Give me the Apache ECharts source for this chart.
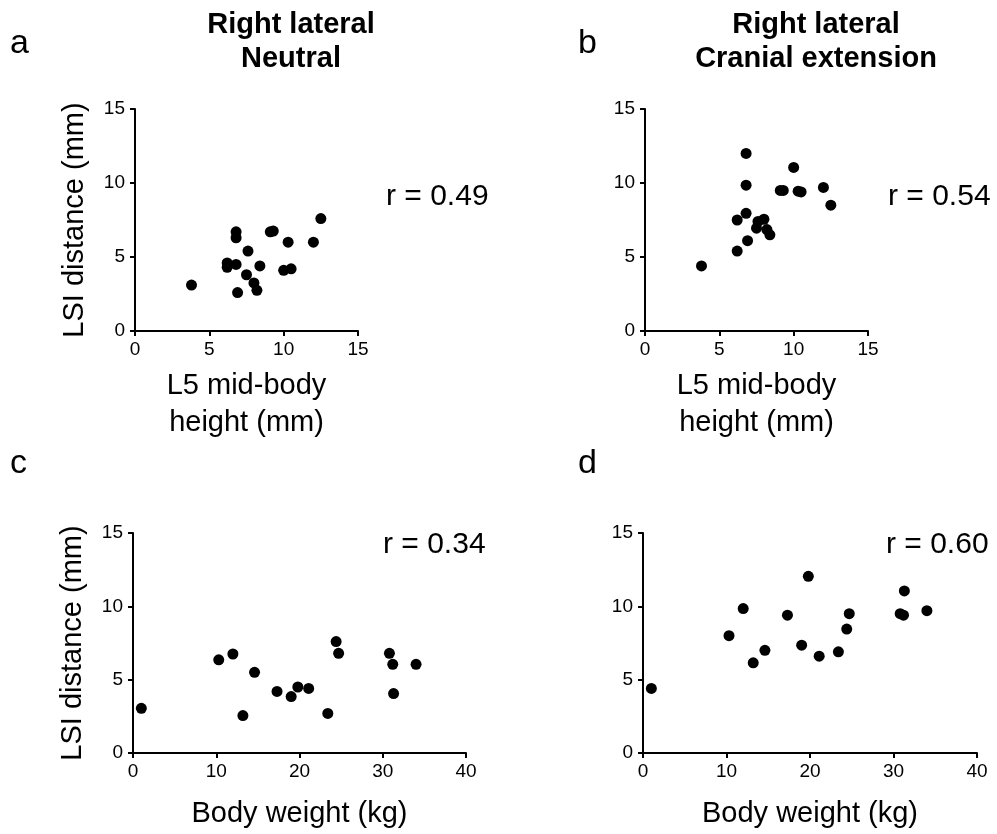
<!DOCTYPE html>
<html>
<head>
<meta charset="utf-8">
<script src="https://cdn.jsdelivr.net/npm/echarts@6/dist/echarts.min.js"></script>
<style>
  html, body { margin: 0; padding: 0; background: #fff; }
  #chart { width: 997px; height: 834px; }
</style>
</head>
<body>
<div id="chart"></div>
<script>
// L5 mid-body height (mm), same dogs in panels a and b
var heightA = [3.8, 6.2, 6.2, 6.8, 6.8, 6.8, 6.9, 7.6, 7.5, 8.0, 8.2, 8.4, 9.1, 9.3, 10.0, 10.3, 10.5, 12.0, 12.5];
var lsiNeutral = [3.1, 4.6, 4.3, 6.7, 6.3, 4.5, 2.6, 5.4, 3.8, 3.25, 2.75, 4.4, 6.7, 6.75, 4.1, 6.0, 4.2, 6.0, 7.6];
var lsiCranial = [4.4, 5.4, 7.5, 12.0, 9.85, 7.95, 6.1, 7.4, 6.95, 7.55, 6.85, 6.5, 9.5, 9.5, 11.05, 9.45, 9.4, 9.7, 8.5];

// body weight (kg), panels c and d
var weight = [1.0, 10.3, 12.0, 13.2, 14.6, 17.3, 19.0, 19.8, 21.1, 23.4, 24.4, 24.7, 30.8, 31.2, 31.3, 34.0];
var lsiNeutralW = [3.05, 6.35, 6.75, 2.55, 5.5, 4.2, 3.85, 4.5, 4.4, 2.7, 7.6, 6.8, 6.8, 6.05, 4.05, 6.05];
var lsiCranialW = [4.4, 8.0, 9.85, 6.15, 7.0, 9.4, 7.35, 12.05, 6.6, 6.9, 8.45, 9.5, 9.5, 9.4, 11.05, 9.7];

var rValues = ['r = 0.49', 'r = 0.54', 'r = 0.34', 'r = 0.60'];

var FONT = '"Liberation Sans", Arial, Helvetica, sans-serif';

function pairs(xs, ys) {
    var out = [];
    for (var i = 0; i < xs.length; i++) out.push([xs[i], ys[i]]);
    return out;
}

function xAx(idx, max, interval, name, gap) {
    return {
        type: 'value', gridIndex: idx, min: 0, max: max, interval: interval,
        name: name, nameLocation: 'middle', nameGap: gap,
        nameTextStyle: { fontFamily: FONT, fontSize: 29, color: '#000', lineHeight: 37 },
        axisLine: { show: true, onZero: false, lineStyle: { color: '#000', width: 2 } },
        axisTick: { show: true, length: 5, lineStyle: { color: '#000', width: 2 } },
        axisLabel: { fontFamily: FONT, fontSize: 19, color: '#000', margin: 9 },
        splitLine: { show: false }
    };
}

function yAx(idx, name) {
    return {
        type: 'value', gridIndex: idx, min: 0, max: 15, interval: 5,
        name: name, nameLocation: 'middle', nameGap: 46,
        nameTextStyle: { fontFamily: FONT, fontSize: 29, color: '#000' },
        axisLine: { show: true, onZero: false, lineStyle: { color: '#000', width: 2 } },
        axisTick: { show: true, length: 5, lineStyle: { color: '#000', width: 2 } },
        axisLabel: { fontFamily: FONT, fontSize: 19, color: '#000', margin: 10 },
        splitLine: { show: false }
    };
}

function dots(idx, data) {
    return {
        type: 'scatter', xAxisIndex: idx, yAxisIndex: idx, data: data,
        symbol: 'circle', symbolSize: 11,
        itemStyle: { color: '#000', opacity: 1 }, silent: true
    };
}

function txt(x, y, text, size) {
    return {
        type: 'text', left: x, top: y,
        style: { text: text, fontFamily: FONT, fontSize: size, fill: '#000' }
    };
}

var myChart = echarts.init(document.getElementById('chart'));

var option = {
    backgroundColor: '#fff',
    animation: false,
    grid: [
        { left: 135, top: 109, width: 223, height: 222, outerBoundsMode: 'none' },
        { left: 645, top: 109, width: 223, height: 222, outerBoundsMode: 'none' },
        { left: 133, top: 533, width: 333, height: 220, outerBoundsMode: 'none' },
        { left: 643, top: 533, width: 334, height: 220, outerBoundsMode: 'none' }
    ],
    xAxis: [
        xAx(0, 15, 5, 'L5 mid-body\nheight (mm)', 36),
        xAx(1, 15, 5, 'L5 mid-body\nheight (mm)', 36),
        xAx(2, 40, 10, 'Body weight (kg)', 42),
        xAx(3, 40, 10, 'Body weight (kg)', 42)
    ],
    yAxis: [
        yAx(0, 'LSI distance (mm)'),
        yAx(1, ''),
        yAx(2, 'LSI distance (mm)'),
        yAx(3, '')
    ],
    series: [
        dots(0, pairs(heightA, lsiNeutral)),
        dots(1, pairs(heightA, lsiCranial)),
        dots(2, pairs(weight, lsiNeutralW)),
        dots(3, pairs(weight, lsiCranialW))
    ],
    graphic: [
        txt(10, 27, 'a', 34),
        txt(578, 27, 'b', 34),
        txt(10, 447, 'c', 34),
        txt(578, 447, 'd', 34),
        { type: 'text', x: 291, y: 8, style: { text: 'Right lateral\nNeutral', fontFamily: FONT, fontSize: 29, fontWeight: 'bold', fill: '#000', align: 'center', lineHeight: 34 } },
        { type: 'text', x: 816, y: 8, style: { text: 'Right lateral\nCranial extension', fontFamily: FONT, fontSize: 29, fontWeight: 'bold', fill: '#000', align: 'center', lineHeight: 34 } },
        txt(386, 182, rValues[0], 30),
        txt(888, 182, rValues[1], 30),
        txt(383, 530, rValues[2], 30),
        txt(886, 530, rValues[3], 30)
    ]
};

myChart.setOption(option);
</script>
</body>
</html>
